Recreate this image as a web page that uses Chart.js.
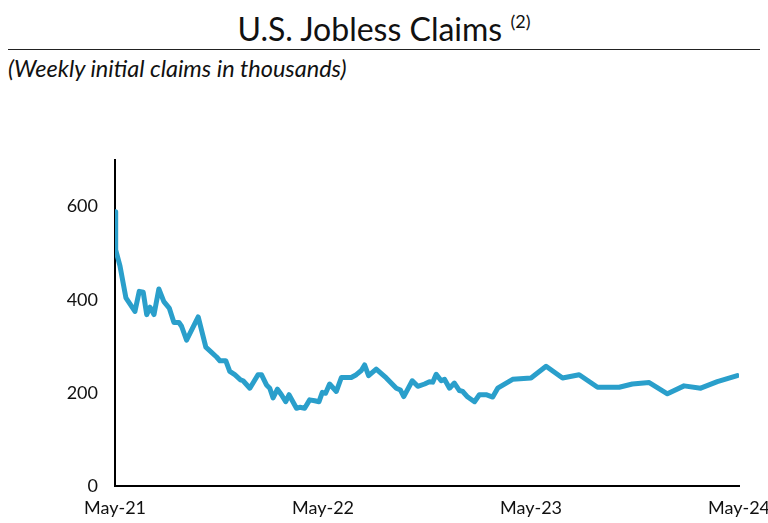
<!DOCTYPE html>
<html>
<head>
<meta charset="utf-8">
<script src="https://cdn.jsdelivr.net/npm/chart.js@4.4.1/dist/chart.umd.min.js"></script>
<style>
    body { margin: 0; width: 768px; height: 523px; background: #fff; font-family: Lato, "Open Sans", sans-serif; color: #111; overflow: hidden; position: relative; }
    .title { position: absolute; top: 1px; left: 0; width: 768px; text-align: center; font-size: 32px; line-height: 40px; }
    .title sup { font-size: 18px; vertical-align: 13px; }
    .rule { position: absolute; top: 49px; left: 8px; width: 752px; border-top: 1.5px solid #222; }
    .sub { position: absolute; top: 53px; left: 8px; font-size: 23.5px; line-height: 30px; font-style: italic; }
    .wrap { position: absolute; left: 0; top: 140px; width: 768px; height: 383px; }
</style>
</head>
<body>
<div class="title">U.S. Jobless Claims <sup>(2)</sup></div>
<div class="rule"></div>
<div class="sub">(Weekly initial claims in thousands)</div>
<div class="wrap"><canvas id="claimsChart"></canvas></div>
<script>
// months since May-21
const months = [0, 0.04, 0.29, 0.63, 1.15, 1.40, 1.63, 1.83, 2.02, 2.25, 2.53, 2.82, 3.13, 3.40, 3.69, 3.84, 4.13, 4.80, 5.24,
    5.57, 5.86, 6.05, 6.39, 6.62, 6.91, 7.24, 7.39, 7.78, 8.25, 8.45, 8.74, 8.93, 9.12, 9.37, 9.60, 9.85, 10.04, 10.47, 10.66,
    10.94, 11.23, 11.52, 11.77, 11.96, 12.15, 12.38, 12.77, 13.06, 13.35, 13.63, 13.92, 14.21, 14.40, 14.63, 15.07, 15.65, 16.23,
    16.47, 16.66, 17.15, 17.47, 17.86, 18.14, 18.33, 18.53, 18.82, 19.01, 19.30, 19.58, 19.87, 20.06, 20.35, 20.74, 21.02, 21.41,
    21.79, 22.08, 22.94, 24.00, 24.87, 25.82, 26.78, 27.84, 29.09, 29.85, 30.82, 31.87, 32.83, 33.79, 34.75, 35.90];
// weekly initial claims (thousands)
const claims = [589, 507, 472, 404, 375, 418, 416, 368, 384, 368, 423, 396, 382, 351, 351, 343, 313, 363, 298,
    287, 277, 269, 269, 246, 239, 228, 226, 210, 239, 239, 217, 210, 189, 208, 196, 181, 196, 167, 169,
    167, 185, 183, 181, 201, 199, 219, 203, 233, 233, 233, 239, 248, 260, 237, 251, 232, 210,
    206, 192, 226, 214, 219, 224, 223, 240, 226, 229, 210, 221, 205, 203, 191, 181, 196, 196,
    191, 210, 229, 232, 257, 232, 239, 212, 212, 219, 222, 198, 215, 210, 224, 237];
const xTicks = [0, 12, 24, 36];
const xLabels = ['May-21', 'May-22', 'May-23', 'May-24'];
const yTicks = [0, 200, 400, 600];

const points = months.map((m, i) => ({ x: m, y: claims[i] }));
const font = { family: 'Lato, "Open Sans", sans-serif', size: 18 };

new Chart(document.getElementById('claimsChart'), {
    type: 'line',
    data: {
        datasets: [{
            data: points,
            borderColor: '#2a9fcb',
            borderWidth: 5,
            borderJoinStyle: 'round',
            borderCapStyle: 'round',
            pointRadius: 0,
            tension: 0,
            fill: false
        }]
    },
    options: {
        responsive: true,
        maintainAspectRatio: false,
        animation: false,
        layout: { padding: { top: 20, right: 29, left: 0, bottom: 0 } },
        plugins: { legend: { display: false }, tooltip: { enabled: false } },
        scales: {
            x: {
                type: 'linear',
                min: 0,
                max: 36,
                grid: { display: false, drawTicks: false },
                border: { display: true, color: '#000', width: 2 },
                afterBuildTicks: s => { s.ticks = xTicks.map(v => ({ value: v })); },
                afterFit: s => { s.height = 37; s.paddingLeft = 0; s.paddingRight = 0; },
                ticks: {
                    color: '#111',
                    font: font,
                    padding: 11,
                    maxRotation: 0,
                    autoSkip: false,
                    callback: v => xLabels[xTicks.indexOf(v)]
                }
            },
            y: {
                min: 0,
                max: 700,
                grid: { display: false, drawTicks: false },
                border: { display: true, color: '#000', width: 2 },
                afterBuildTicks: s => { s.ticks = yTicks.map(v => ({ value: v })); },
                afterFit: s => { s.width = 115; s.paddingTop = 0; s.paddingBottom = 0; },
                ticks: { color: '#111', font: font, padding: 17 }
            }
        }
    }
});
</script>
</body>
</html>
